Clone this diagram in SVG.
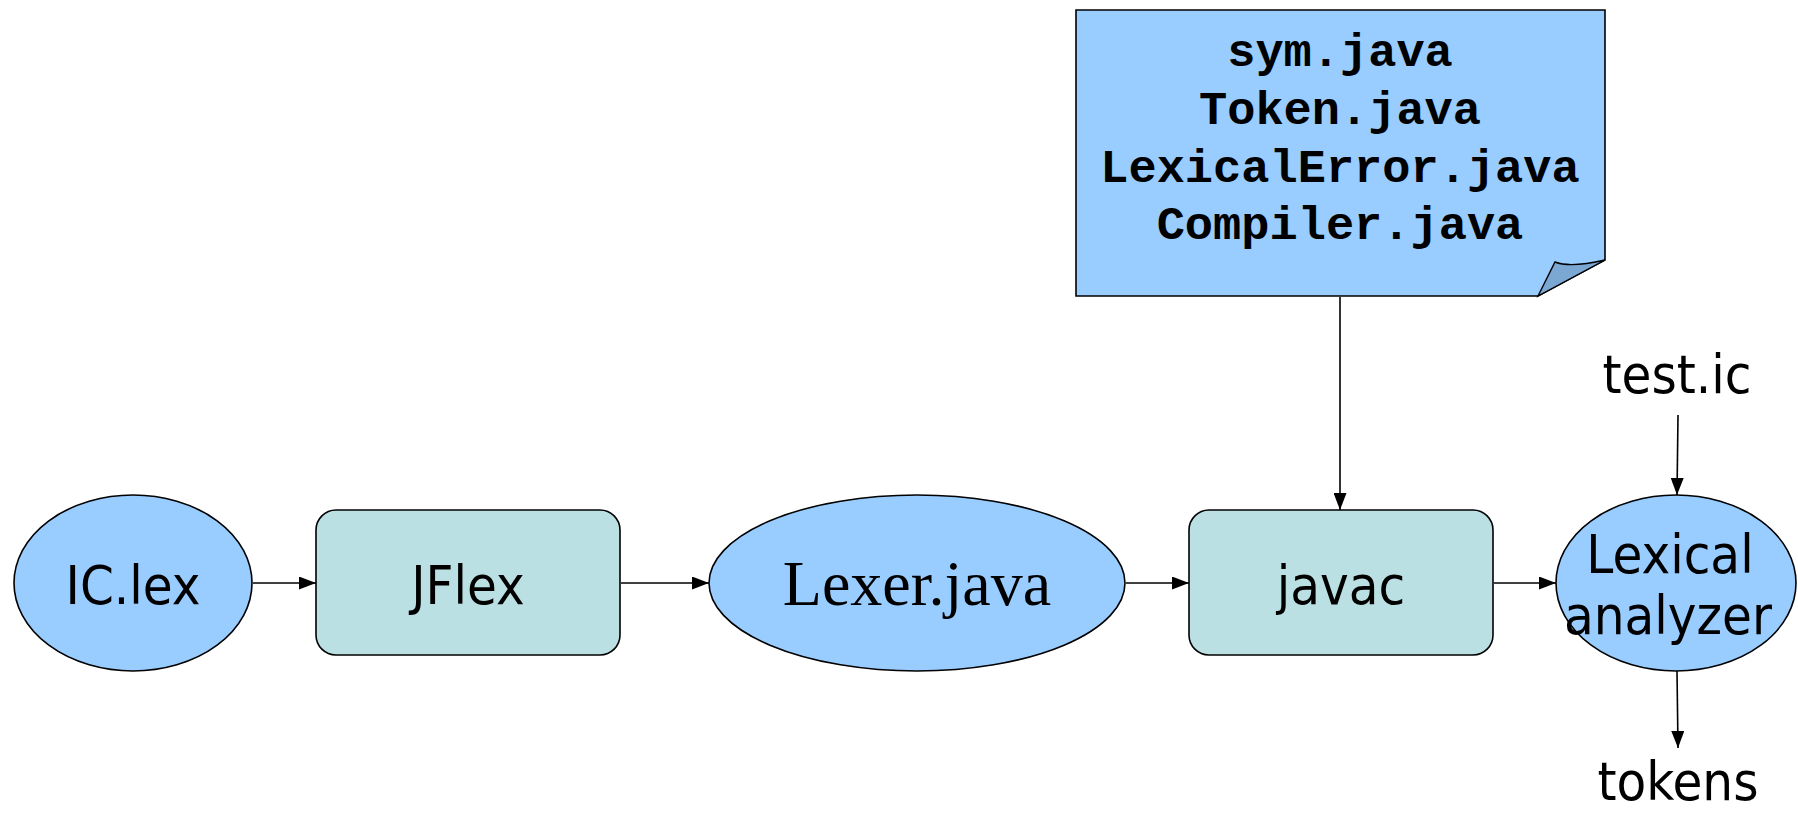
<svg xmlns="http://www.w3.org/2000/svg" width="1798" height="815" viewBox="0 0 1798 815">
<defs>
<style>
.ell{fill:#99CCFF;stroke:#000;stroke-width:1.6}
.box{fill:#BBE0E3;stroke:#000;stroke-width:1.6}
.lbl{font-family:"DejaVu Sans Condensed","DejaVu Sans",sans-serif;font-size:54px;fill:#000;text-anchor:middle}
.mono{font-family:"Liberation Mono","Courier New",monospace;font-weight:bold;font-size:47px;fill:#000;text-anchor:middle}
.serif{font-family:"Liberation Serif","Times New Roman",serif;font-size:64px;fill:#000;text-anchor:middle}
.con{stroke:#000;stroke-width:1.6;fill:none;marker-end:url(#arr)}
</style>
<marker id="arr" viewBox="0 0 17 13" refX="17" refY="6.5" markerWidth="17" markerHeight="13" markerUnits="userSpaceOnUse" orient="auto">
<path d="M0,0 L17,6.5 L0,13 Z" fill="#000"/>
</marker>
</defs>
<rect width="1798" height="815" fill="#fff"/>
<g id="connectors">
<line class="con" x1="253" y1="583" x2="316" y2="583"/>
<line class="con" x1="621" y1="583" x2="709" y2="583"/>
<line class="con" x1="1126" y1="583" x2="1189" y2="583"/>
<line class="con" x1="1494" y1="583" x2="1556" y2="583"/>
<line class="con" x1="1340" y1="297" x2="1340" y2="510"/>
<line class="con" x1="1678" y1="415" x2="1677" y2="495"/>
<line class="con" x1="1677" y1="671" x2="1678" y2="748"/>
</g>
<g id="note">
<path d="M1076,10 L1605,10 L1605,260 L1538,296 L1076,296 Z" fill="#99CCFF" stroke="#000" stroke-width="1.6"/>
<path d="M1605,260 Q1570,268 1555,262 L1538,296 Z" fill="#7BA7D3" stroke="#000" stroke-width="1.4"/>
<text class="mono" x="1340" y="66">sym.java</text>
<text class="mono" x="1340" y="124">Token.java</text>
<text class="mono" x="1340" y="182">LexicalError.java</text>
<text class="mono" x="1340" y="239">Compiler.java</text>
</g>
<g id="iclex">
<ellipse class="ell" cx="133" cy="583" rx="119" ry="88"/>
<text class="lbl" x="133" y="604">IC.lex</text>
</g>
<g id="jflex">
<rect class="box" x="316" y="510" width="304" height="145" rx="20"/>
<text class="lbl" x="468" y="604">JFlex</text>
</g>
<g id="lexer">
<ellipse class="ell" cx="917" cy="583" rx="208" ry="88"/>
<text class="serif" x="917" y="605">Lexer.java</text>
</g>
<g id="javac">
<rect class="box" x="1189" y="510" width="304" height="145" rx="20"/>
<text class="lbl" x="1341" y="604">javac</text>
</g>
<g id="lexical">
<ellipse class="ell" cx="1676" cy="583" rx="120" ry="88"/>
<text class="lbl" x="1670" y="573">Lexical</text>
<text class="lbl" x="1668" y="634">analyzer</text>
</g>
<g id="testic">
<text class="lbl" x="1677" y="393">test.ic</text>
</g>
<g id="tokens">
<text class="lbl" x="1678" y="800">tokens</text>
</g>
</svg>
